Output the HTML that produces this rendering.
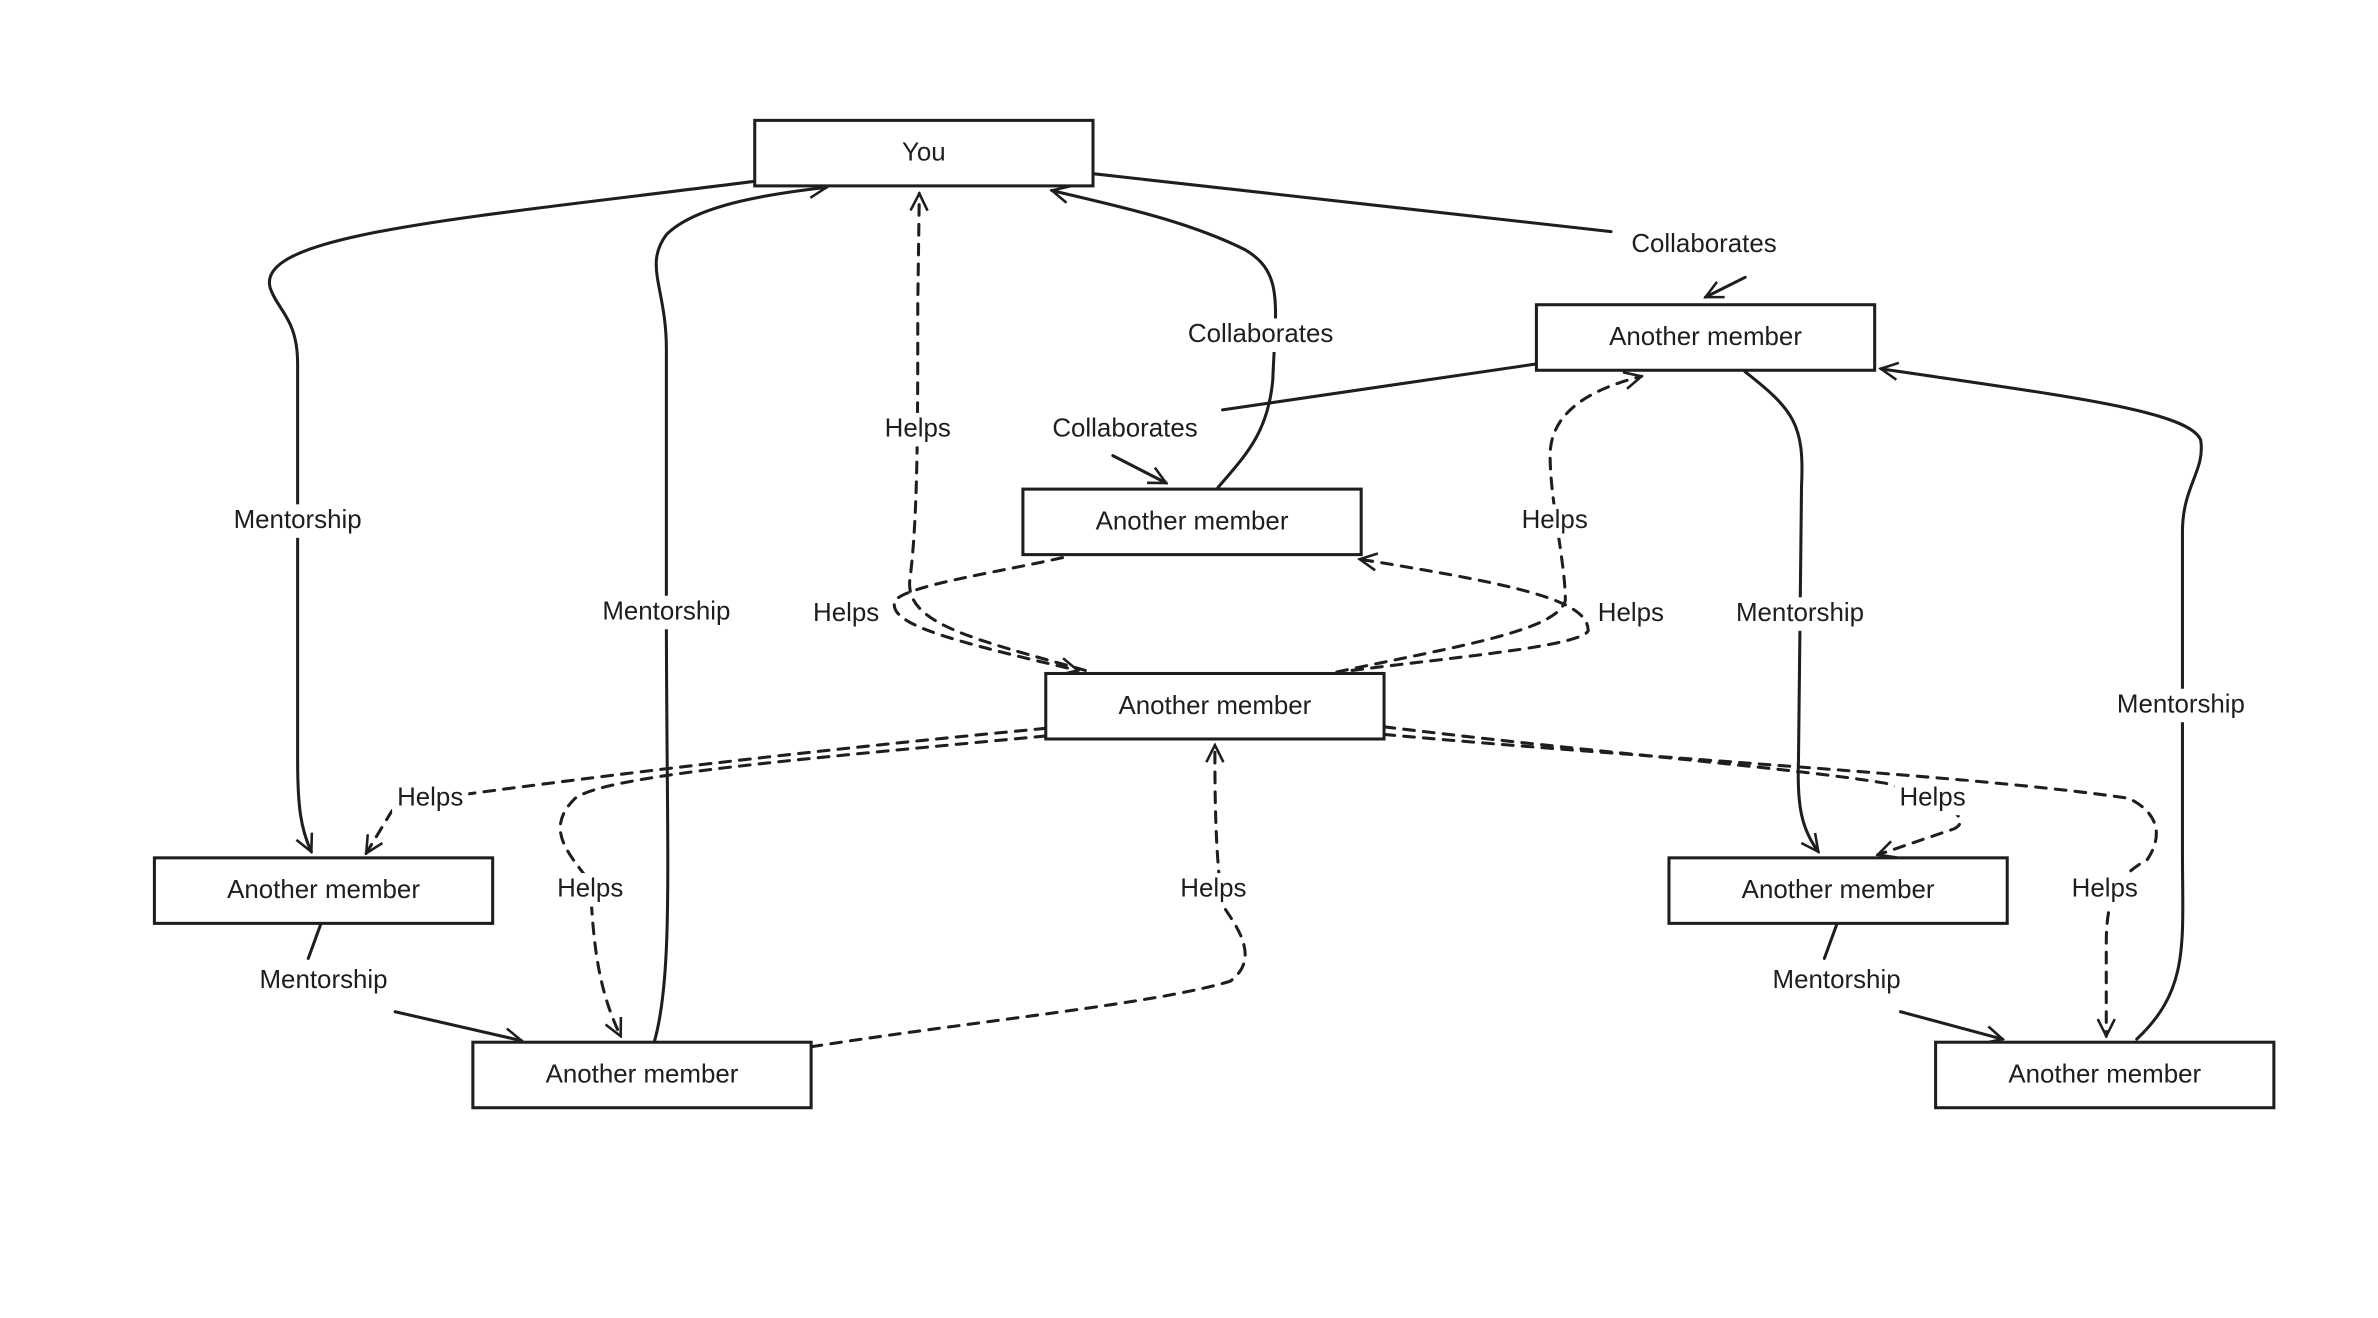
<!DOCTYPE html>
<html><head><meta charset="utf-8"><style>
html,body{margin:0;padding:0;background:#fff;}
svg{display:block;}
text{font-family:"Liberation Sans",sans-serif;font-size:17px;fill:#1e1e1e;text-anchor:middle;dominant-baseline:middle;}
.b{fill:#fff;stroke:#1e1e1e;stroke-width:2;}
.e{fill:none;stroke:#1e1e1e;stroke-width:2;stroke-linecap:round;}
.d{stroke-dasharray:7 6;}
.lb{fill:#fff;stroke:none;}
</style></head><body>
<svg width="2378" height="1318" viewBox="0 0 1560 865" xmlns="http://www.w3.org/2000/svg">
<defs><marker id="a" viewBox="0 0 20 20" refX="18" refY="10" markerWidth="14" markerHeight="14" markerUnits="userSpaceOnUse" orient="auto"><path d="M2,2 L18,10 L2,18" fill="none" stroke="#1e1e1e" stroke-width="2.4"/></marker></defs>
<g transform="translate(-3,-1)">
<g>
<path class="e" d="M498,120 C300,145 170,155 180,190 C185,205 198,210 198,240 L198,500 C198,530 200,545 207,560" marker-end="url(#a)"/>
<path class="e" d="M432,685 C445,640 440,560 440,400 L440,230 C440,190 425,175 440,155 C460,135 510,128 545,124" marker-end="url(#a)"/>
<path class="e d" d="M715,441 C640,420 595,410 600,380 C605,340 605,280 605,200 L606,128" marker-end="url(#a)"/>
<path class="e" d="M802,321 C820,300 835,285 838,250 C840,200 845,180 820,165 C780,145 730,135 693,126" marker-end="url(#a)"/>
<path class="e" d="M720,115 L1060,153"/>
<path class="e" d="M1148,183 L1122,196" marker-end="url(#a)"/>
<path class="e" d="M1010,240 L805,270"/>
<path class="e" d="M733,300 L768,318" marker-end="url(#a)"/>
<path class="e d" d="M700,367 C650,378 600,385 590,395 C585,410 620,420 710,441" marker-end="url(#a)"/>
<path class="e d" d="M880,442 C960,425 1025,415 1030,395 C1030,370 1020,330 1020,300 C1020,275 1040,258 1080,248" marker-end="url(#a)"/>
<path class="e d" d="M890,441 C960,432 1040,425 1045,415 C1045,395 1000,385 895,368" marker-end="url(#a)"/>
<path class="e" d="M1148,245 C1180,270 1187,280 1185,320 L1183,500 C1182,530 1185,545 1196,560" marker-end="url(#a)"/>
<path class="e" d="M1405,683 C1440,650 1435,620 1435,560 L1435,350 C1435,320 1450,310 1447,290 C1440,270 1350,260 1237,243" marker-end="url(#a)"/>
<path class="e d" d="M689,479 C520,495 400,510 310,522"/>
<path class="e d" d="M260,533 L243,561" marker-end="url(#a)"/>
<path class="e d" d="M689,484 C520,500 400,510 380,525 C360,545 375,560 390,580 C392,620 395,650 410,681" marker-end="url(#a)"/>
<path class="e d" d="M535,688 C650,670 760,660 810,645 C830,630 815,610 805,595 C800,560 800,520 800,490" marker-end="url(#a)"/>
<path class="e d" d="M911,478 C1050,495 1180,505 1240,515 C1290,530 1295,540 1285,545 L1235,562" marker-end="url(#a)"/>
<path class="e d" d="M911,483 C1100,500 1300,510 1400,525 C1420,535 1422,550 1412,565 C1395,575 1385,585 1385,620 L1385,681" marker-end="url(#a)"/>
<path class="e" d="M213,608 L205,630 M262,665 L345,684" marker-end="url(#a)"/>
<path class="e" d="M1208,608 L1200,630 M1250,665 L1317,683" marker-end="url(#a)"/>
</g>
<g>
<rect class="lb" x="145" y="332" width="106" height="22"/><text x="198" y="343">Mentorship</text>
<rect class="lb" x="387" y="392" width="106" height="22"/><text x="440" y="403">Mentorship</text>
<rect class="lb" x="580" y="272" width="50" height="22"/><text x="605" y="283">Helps</text>
<rect class="lb" x="770" y="210" width="120" height="22"/><text x="830" y="221">Collaborates</text>
<rect class="lb" x="1061" y="151" width="120" height="22"/><text x="1121" y="162">Collaborates</text>
<rect class="lb" x="681" y="272" width="120" height="22"/><text x="741" y="283">Collaborates</text>
<rect class="lb" x="533" y="393" width="50" height="22"/><text x="558" y="404">Helps</text>
<rect class="lb" x="998" y="332" width="50" height="22"/><text x="1023" y="343">Helps</text>
<rect class="lb" x="1048" y="393" width="50" height="22"/><text x="1073" y="404">Helps</text>
<rect class="lb" x="1131" y="393" width="106" height="22"/><text x="1184" y="404">Mentorship</text>
<rect class="lb" x="1381" y="453" width="106" height="22"/><text x="1434" y="464">Mentorship</text>
<rect class="lb" x="260" y="514" width="50" height="22"/><text x="285" y="525">Helps</text>
<rect class="lb" x="365" y="574" width="50" height="22"/><text x="390" y="585">Helps</text>
<rect class="lb" x="774" y="574" width="50" height="22"/><text x="799" y="585">Helps</text>
<rect class="lb" x="1246" y="514" width="50" height="22"/><text x="1271" y="525">Helps</text>
<rect class="lb" x="1359" y="574" width="50" height="22"/><text x="1384" y="585">Helps</text>
<rect class="lb" x="162" y="634" width="106" height="22"/><text x="215" y="645">Mentorship</text>
<rect class="lb" x="1155" y="634" width="106" height="22"/><text x="1208" y="645">Mentorship</text>
</g>
<g>
<rect class="b" x="498" y="80" width="222" height="43"/><text x="609" y="102">You</text>
<rect class="b" x="1011" y="201" width="222" height="43"/><text x="1122" y="223">Another member</text>
<rect class="b" x="674" y="322" width="222" height="43"/><text x="785" y="344">Another member</text>
<rect class="b" x="689" y="443" width="222" height="43"/><text x="800" y="465">Another member</text>
<rect class="b" x="104" y="564" width="222" height="43"/><text x="215" y="586">Another member</text>
<rect class="b" x="313" y="685" width="222" height="43"/><text x="424" y="707">Another member</text>
<rect class="b" x="1098" y="564" width="222" height="43"/><text x="1209" y="586">Another member</text>
<rect class="b" x="1273" y="685" width="222" height="43"/><text x="1384" y="707">Another member</text>
</g>
</g>
</svg>
</body></html>
